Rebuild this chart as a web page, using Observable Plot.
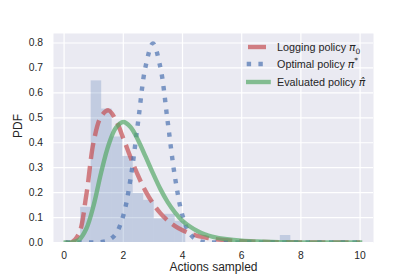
<!DOCTYPE html>
<html>
<head>
<meta charset="utf-8">
<script src="https://cdn.jsdelivr.net/npm/d3@7"></script>
<script src="https://cdn.jsdelivr.net/npm/@observablehq/plot@0.6"></script>
<style>
  html, body { margin: 0; padding: 0; background: #ffffff; }
  #wrap { position: relative; width: 415px; height: 277px; font-family: "Liberation Sans", Arial, sans-serif; color: #262626; }
  #legend { position: absolute; left: 244px; top: 38px; font-size: 10.8px; }
  .row { position: absolute; left: 0; height: 14px; line-height: 14px; white-space: nowrap; }
  .row svg { position: absolute; left: 0; top: 2px; }
  .row span.t { position: absolute; left: 33px; top: 0; }
  .m { font-family: "DejaVu Sans", sans-serif; font-style: italic; }
  .m sub, .m sup { font-style: normal; font-size: 70%; line-height: 0; }
</style>
</head>
<body>
<div id="wrap"></div>
<script>
// Histogram (density) of sampled actions
const binEdges = [0.56, 0.915, 1.27, 1.625, 1.98, 2.335, 2.69, 3.045, 3.40, 3.755, 4.11,
                  4.465, 4.82, 5.175, 5.53, 5.885, 6.24, 6.595, 6.95, 7.305, 7.66];
const binHeights = [0.141, 0.648, 0.535, 0.423, 0.345, 0.197, 0.169, 0.095, 0.113, 0.085,
                    0, 0, 0, 0, 0, 0, 0, 0, 0, 0.028];

// PDF curves
const xs = [0.05, 0.25, 0.5, 0.75, 1, 1.25, 1.5, 1.75, 2, 2.25, 2.5, 2.75, 3, 3.25, 3.5, 3.75,
            4, 4.25, 4.5, 4.75, 5, 5.5, 6, 6.5, 7, 7.5, 8, 8.5, 9, 9.5, 10];
const logging = [0, 0.0005, 0.035, 0.19, 0.405, 0.505, 0.53, 0.49, 0.418, 0.34, 0.268, 0.206,
                 0.157, 0.118, 0.088, 0.066, 0.049, 0.037, 0.027, 0.021, 0.015, 0.009, 0.005,
                 0.003, 0.0017, 0.001, 0.0006, 0.0003, 0.0002, 0.0001, 0.0001];
const optimal = [0, 0, 0, 0, 0.0003, 0.0017, 0.009, 0.035, 0.108, 0.259, 0.484, 0.704, 0.798,
                 0.704, 0.484, 0.259, 0.108, 0.035, 0.009, 0.0017, 0.0003, 0, 0, 0, 0, 0, 0,
                 0, 0, 0, 0];
const evaluated = [0, 0.0002, 0.01, 0.055, 0.15, 0.28, 0.39, 0.46, 0.483, 0.462, 0.41, 0.345,
                   0.278, 0.215, 0.162, 0.12, 0.087, 0.064, 0.046, 0.033, 0.024, 0.013, 0.007,
                   0.004, 0.002, 0.001, 0.0005, 0.0003, 0.0002, 0.0001, 0];

const xTicks = [0, 2, 4, 6, 8, 10];
const yTicks = [0, 0.1, 0.2, 0.3, 0.4, 0.5, 0.6, 0.7, 0.8];
const xLabel = "Actions sampled";
const yLabel = "PDF";

const bins = binHeights.map((h, i) => ({x1: binEdges[i], x2: binEdges[i + 1], h}));
const series = (ys) => xs.map((x, i) => ({x, y: ys[i]}));

const chart = Plot.plot({
  width: 415,
  height: 277,
  marginLeft: 53,
  marginRight: 42,
  marginTop: 33,
  marginBottom: 35,
  style: {fontFamily: '"Liberation Sans", Arial, sans-serif', fontSize: "10.3px", color: "#262626", background: "#ffffff"},
  x: {domain: [-0.358, 10.453], ticks: xTicks, tickSize: 0, tickPadding: 9, label: null},
  y: {domain: [0, 0.838], ticks: yTicks, tickSize: 0, tickPadding: 10.4, tickFormat: d3.format(".1f"), label: null},
  marks: [
    Plot.frame({fill: "#EAEAF2", stroke: "none"}),
    Plot.ruleX(xTicks, {x: d => d, stroke: "#ffffff", strokeWidth: 1.2}),
    Plot.ruleY(yTicks, {y: d => d, stroke: "#ffffff", strokeWidth: 1.2}),
    Plot.rect(bins, {x1: "x1", x2: "x2", y1: 0, y2: "h", fill: "#4C72B0", fillOpacity: 0.25}),
    Plot.line(series(logging), {x: "x", y: "y", curve: "catmull-rom", stroke: "#C44E52", strokeOpacity: 0.7,
      strokeWidth: 4.4, strokeDasharray: "16.3,7", strokeLinecap: "butt", clip: true}),
    Plot.line(series(optimal), {x: "x", y: "y", curve: "catmull-rom", stroke: "#4C72B0", strokeOpacity: 0.7,
      strokeWidth: 4.4, strokeDasharray: "4.4,7.3", strokeLinecap: "butt", clip: true}),
    Plot.line(series(evaluated), {x: "x", y: "y", curve: "catmull-rom", stroke: "#55A868", strokeOpacity: 0.7,
      strokeWidth: 4.4, strokeLinecap: "square", clip: true}),
    Plot.text([yLabel], {text: d => d, frameAnchor: "left", dx: -35, rotate: -90, fontSize: 12, fill: "#262626"}),
    Plot.text([xLabel], {text: d => d, frameAnchor: "bottom", dy: 28.5, fontSize: 12, fill: "#262626"})
  ]
});

const wrap = document.getElementById("wrap");
wrap.appendChild(chart);

// Legend (inside axes, upper right)
const legend = document.createElement("div");
legend.id = "legend";
legend.innerHTML = `
  <div class="row" style="top:1.5px">
    <svg width="30" height="10"><line x1="4" x2="22" y1="5" y2="5" stroke="#C44E52" stroke-opacity="0.7" stroke-width="4.4"/></svg>
    <span class="t">Logging policy <span class="m">π<sub>0</sub></span></span>
  </div>
  <div class="row" style="top:19px">
    <svg width="30" height="10"><line x1="2.7" x2="22" y1="5" y2="5" stroke="#4C72B0" stroke-opacity="0.7" stroke-width="4.4" stroke-dasharray="4.4,7.3"/></svg>
    <span class="t">Optimal policy <span class="m">π<sup>*</sup></span></span>
  </div>
  <div class="row" style="top:36.5px">
    <svg width="30" height="10"><line x1="4.2" x2="24.6" y1="5" y2="5" stroke="#55A868" stroke-opacity="0.7" stroke-width="4.4" stroke-linecap="square"/></svg>
    <span class="t">Evaluated policy <span class="m">π̂</span></span>
  </div>`;
wrap.appendChild(legend);
</script>
</body>
</html>
